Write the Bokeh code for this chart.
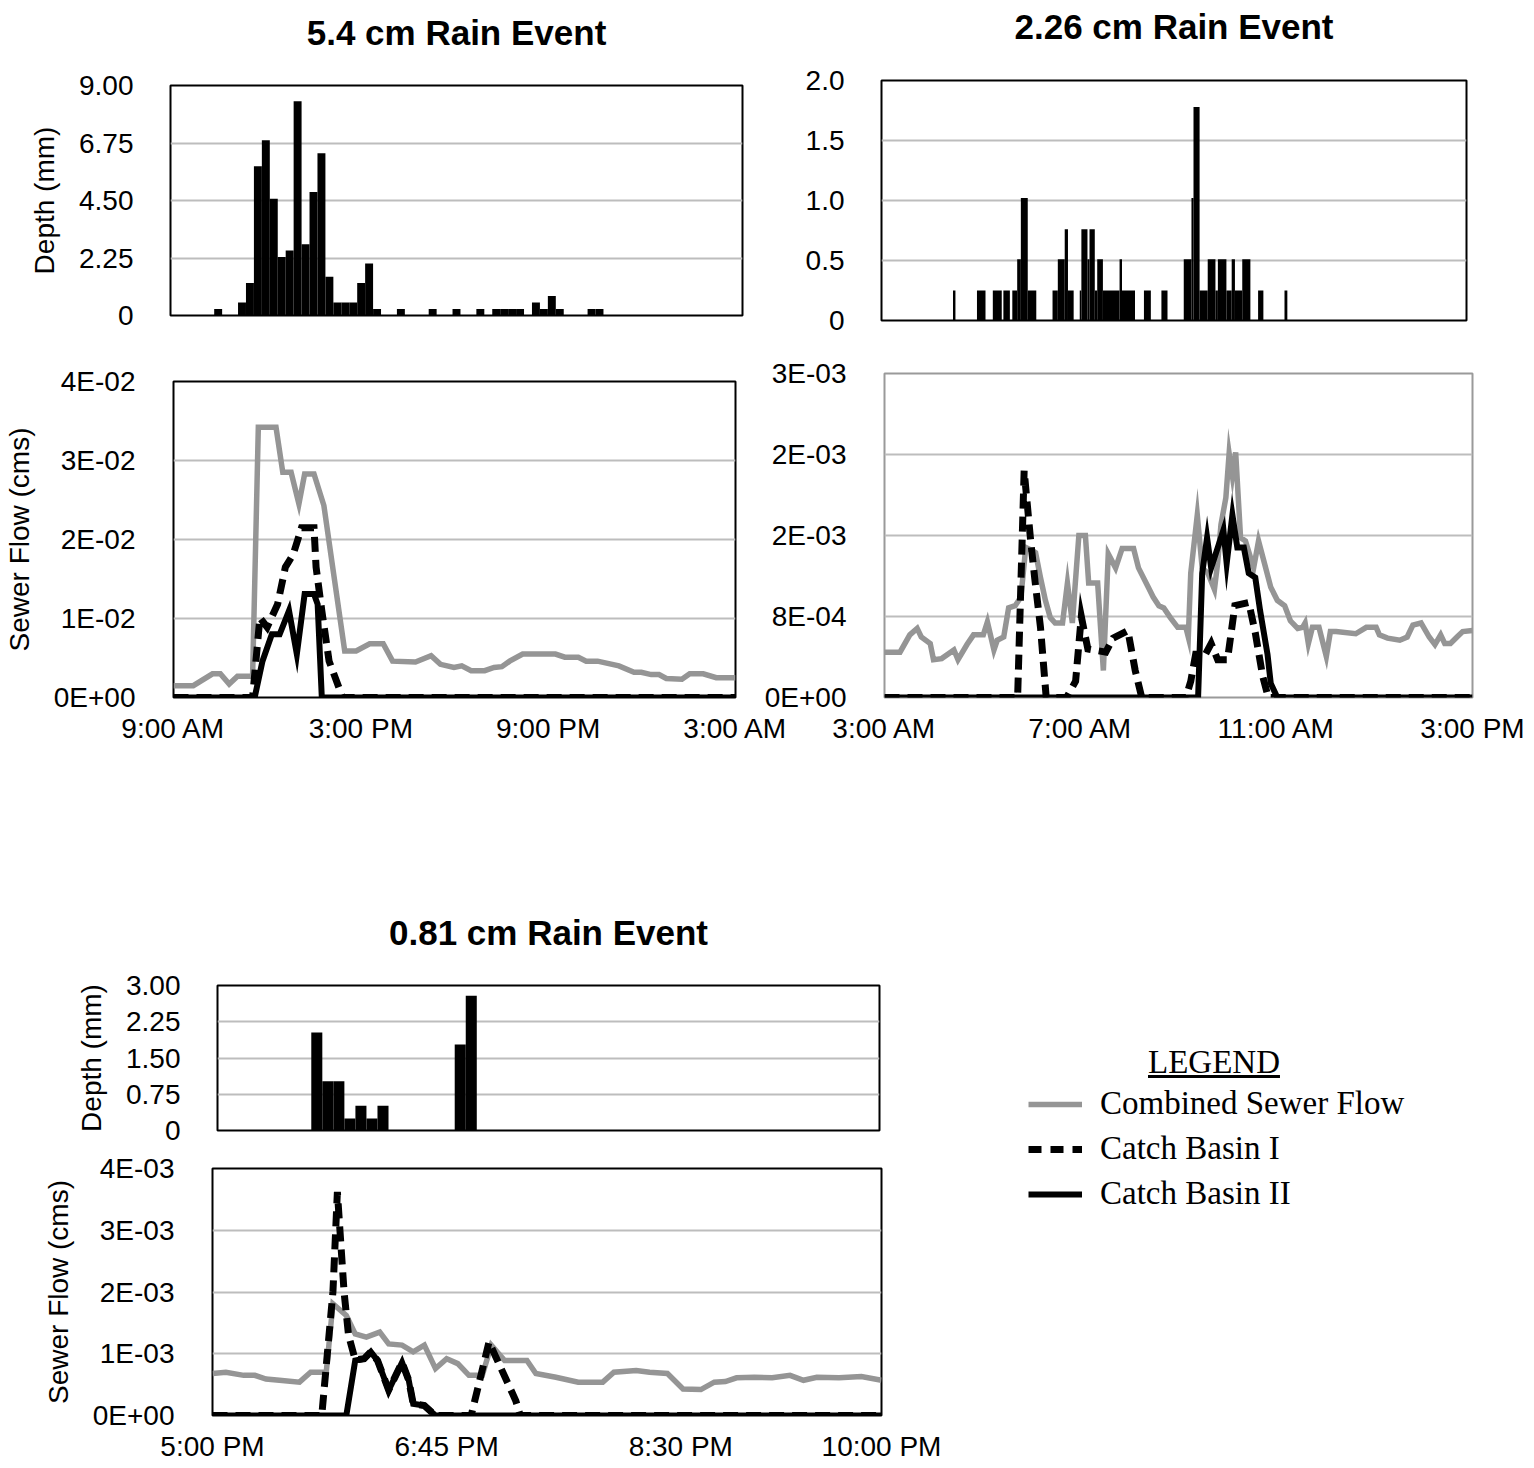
from bokeh.plotting import figure
from bokeh.models import Range1d, FixedTicker, Legend, LegendItem, Div
from bokeh.embed import file_html
from bokeh.resources import INLINE

SANS = "Liberation Sans"
SERIF = "Liberation Serif"
GRAY = "#959595"
GRID = "#bdbdbd"

# ---------------- 5.4 cm event (minutes after 9:00 AM) ----------------
tl_rain_t = [90, 135, 150, 165, 180, 195, 210, 225, 240, 255, 270, 285, 300, 315, 330, 345,
             360, 375, 390, 435, 495, 540, 585, 615, 630, 645, 660, 690, 705, 720, 735, 795, 810]
tl_rain_mm = [0.25, 0.51, 1.27, 5.84, 6.86, 4.57, 2.29, 2.54, 8.38, 2.79, 4.83, 6.35, 1.52, 0.51, 0.51, 0.51,
              1.27, 2.03, 0.25, 0.25, 0.25, 0.25, 0.25, 0.25, 0.25, 0.25, 0.25, 0.51, 0.25, 0.76, 0.25, 0.25, 0.25]
tl_csf_t = [0, 38, 75, 90, 107, 123, 152, 163, 197, 210, 226, 241, 252, 270, 289, 307, 329, 351, 377, 403,
            421, 465, 495, 513, 539, 554, 572, 598, 616, 631, 646, 671, 734, 752, 778, 793, 815, 856, 885, 899,
            918, 933, 947, 977, 992, 1018, 1043, 1080]
tl_csf = [0.0015, 0.0015, 0.0030, 0.0030, 0.0017, 0.0027, 0.0027, 0.0342, 0.0342, 0.0285, 0.0285, 0.0245,
          0.0283, 0.0283, 0.0243, 0.0160, 0.0059, 0.0059, 0.0068, 0.0068, 0.0046, 0.0045, 0.0053, 0.0042,
          0.0038, 0.0040, 0.0034, 0.0034, 0.0038, 0.0039, 0.0046, 0.0055, 0.0055, 0.0051, 0.0051, 0.0046,
          0.0046, 0.0040, 0.0032, 0.0032, 0.0029, 0.0029, 0.0024, 0.0023, 0.0030, 0.0030, 0.0025, 0.0025]
tl_cb1_t = [0, 152, 166, 180, 200, 215, 230, 246, 270, 274, 285, 299, 325, 1080]
tl_cb1 = [0, 0, 0.0101, 0.0089, 0.0118, 0.0165, 0.0181, 0.0215, 0.0215, 0.0165, 0.0110, 0.0046, 0, 0]
tl_cb2_t = [0, 156, 171, 189, 204, 222, 237, 252, 270, 277, 285, 1080]
tl_cb2 = [0, 0, 0.0046, 0.0080, 0.0080, 0.0110, 0.0055, 0.0131, 0.0131, 0.0118, 0, 0]
tl_xticks = [0, 360, 720, 1080]
tl_xlabels = ["9:00 AM", "3:00 PM", "9:00 PM", "3:00 AM"]
tl_rain_ticks = [0.0, 2.25, 4.5, 6.75, 9.0]
tl_rain_labels = ["0", "2.25", "4.50", "6.75", "9.00"]
tl_flow_ticks = [0.0, 0.01, 0.02, 0.03, 0.04]
tl_flow_labels = ["0E+00", "1E-02", "2E-02", "3E-02", "4E-02"]

# ---------------- 2.26 cm event (minutes after 3:00 AM) ----------------
tr_rain_start = [88, 117.5, 137, 150, 161, 167, 171.5, 180, 210.5, 217, 225.5, 229.5, 244, 246, 253.5, 256,
                 262.5, 265.5, 272.5, 293, 296, 323, 344.5, 372, 381.5, 384, 391.5, 401.5, 411, 414, 424.5,
                 431, 435, 444, 463.5, 496]
tr_rain_end = [91, 128, 148, 158, 167, 171.5, 180, 190.5, 217, 225.5, 229.5, 236.5, 246, 253.5, 256, 262.5,
               265.5, 272.5, 293, 296, 312, 331.5, 352, 381.5, 384, 391.5, 401.5, 411, 414, 424.5, 431,
               435, 444, 454, 470, 499.5]
tr_rain_mm = [0.25, 0.25, 0.25, 0.25, 0.25, 0.51, 1.02, 0.25, 0.25, 0.51, 0.76, 0.25, 0.25, 0.76, 0.51, 0.76,
              0.25, 0.51, 0.25, 0.51, 0.25, 0.25, 0.25, 0.51, 1.02, 1.78, 0.25, 0.51, 0.25, 0.51, 0.25,
              0.51, 0.25, 0.51, 0.25, 0.25]
tr_csf_t = [0, 19, 31, 40, 45, 56, 60, 70, 85, 90, 101, 109, 121, 126, 134, 138, 146, 152, 160, 167,
            173, 181, 185, 191, 197, 203, 209, 218, 224, 230, 238, 246, 250, 261, 268, 274, 283, 291, 305, 311,
            323, 329, 336, 342, 350, 359, 369, 372, 375, 383, 389, 396, 404, 408, 412, 418, 422, 426, 430, 436,
            442, 452, 458, 465, 473, 481, 490, 497, 506, 512, 515, 519, 524, 532, 541, 546, 553, 577, 590, 602,
            606, 616, 631, 640, 647, 657, 667, 674, 681, 686, 693, 701, 708, 720]
tr_csf = [4.2e-4, 4.2e-4, 5.8e-4, 6.4e-4, 5.6e-4, 5.0e-4, 3.5e-4, 3.6e-4, 4.4e-4, 3.5e-4,
          4.9e-4, 5.8e-4, 5.8e-4, 7.0e-4, 4.4e-4, 5.3e-4, 5.6e-4, 8.3e-4, 8.5e-4, 9.3e-4,
          13.9e-4, 13.6e-4, 13.4e-4, 11.1e-4, 9.0e-4, 7.4e-4, 6.9e-4, 6.9e-4, 10.6e-4, 6.9e-4,
          15.0e-4, 15.0e-4, 10.6e-4, 10.6e-4, 2.5e-4, 13.3e-4, 12.0e-4, 13.8e-4, 13.8e-4, 12.0e-4,
          10.2e-4, 9.3e-4, 8.5e-4, 8.3e-4, 7.4e-4, 6.5e-4, 6.5e-4, 5.6e-4, 11.5e-4, 16.9e-4,
          12.0e-4, 11.5e-4, 10.0e-4, 12.5e-4, 16.0e-4, 18.5e-4, 22.6e-4, 20.5e-4, 22.7e-4, 14.8e-4,
          14.5e-4, 12.0e-4, 14.5e-4, 12.5e-4, 10.2e-4, 9.0e-4, 8.5e-4, 7.1e-4, 6.4e-4, 6.5e-4,
          6.9e-4, 5.0e-4, 6.5e-4, 6.5e-4, 3.8e-4, 6.1e-4, 6.1e-4, 5.9e-4, 6.5e-4, 6.5e-4,
          5.8e-4, 5.5e-4, 5.3e-4, 5.6e-4, 6.7e-4, 6.9e-4, 5.6e-4, 4.9e-4, 5.8e-4, 5.0e-4,
          5.0e-4, 5.6e-4, 6.1e-4, 6.2e-4]
tr_cb1_t = [0, 163, 171, 179, 184, 191, 198, 223, 234, 241, 249, 271, 280, 298, 307, 315, 369, 375, 381, 393,
            400, 408, 420, 429, 446, 454, 463, 470, 720]
tr_cb1 = [0, 0, 21e-4, 14.5e-4, 11e-4, 6.5e-4, 0, 0, 1.5e-4, 7.5e-4, 4.5e-4, 4.2e-4, 5.5e-4, 6.2e-4, 2.5e-4,
          0, 0, 1.5e-4, 4.0e-4, 4.0e-4, 5.0e-4, 3.5e-4, 3.5e-4, 8.5e-4, 8.8e-4, 6.0e-4, 2.0e-4, 0, 0]
tr_cb2_t = [0, 384, 389, 395, 400, 415, 419, 426, 432, 440, 446, 454, 460, 469, 473, 481, 720]
tr_cb2 = [0, 0, 11.5e-4, 14.8e-4, 12.0e-4, 15.5e-4, 12.4e-4, 16.9e-4, 13.9e-4, 13.9e-4, 11.5e-4, 11.1e-4,
          8.0e-4, 4.0e-4, 1.3e-4, 0, 0]
tr_xticks = [0, 240, 480, 720]
tr_xlabels = ["3:00 AM", "7:00 AM", "11:00 AM", "3:00 PM"]
tr_rain_ticks = [0.0, 0.5, 1.0, 1.5, 2.0]
tr_rain_labels = ["0", "0.5", "1.0", "1.5", "2.0"]
tr_flow_ticks = [0.0, 0.00075, 0.0015, 0.00225, 0.003]
tr_flow_labels = ["0E+00", "8E-04", "2E-03", "2E-03", "3E-03"]

# ---------------- 0.81 cm event (minutes after 5:00 PM) ----------------
b_rain_t = [45, 50, 55, 60, 65, 70, 75, 110, 115]
b_rain_mm = [2.03, 1.02, 1.02, 0.25, 0.51, 0.25, 0.51, 1.78, 2.79]
b_csf_t = [0, 6, 14, 19, 24, 30, 39, 44, 51, 54, 60, 64, 69, 75, 79, 85, 90, 95, 100, 105,
           110, 115, 121, 125, 131, 141, 145, 154, 164, 175, 180, 190, 196, 204, 211, 219, 225, 230, 235, 243,
           251, 259, 265, 271, 281, 291, 300]
b_csf = [0.68e-3, 0.70e-3, 0.65e-3, 0.65e-3, 0.59e-3, 0.57e-3, 0.54e-3, 0.70e-3, 0.70e-3, 1.81e-3,
         1.62e-3, 1.32e-3, 1.27e-3, 1.35e-3, 1.16e-3, 1.14e-3, 1.03e-3, 1.14e-3, 0.76e-3, 0.92e-3,
         0.84e-3, 0.65e-3, 0.65e-3, 1.14e-3, 0.89e-3, 0.89e-3, 0.68e-3, 0.62e-3, 0.54e-3, 0.54e-3,
         0.70e-3, 0.73e-3, 0.70e-3, 0.68e-3, 0.43e-3, 0.42e-3, 0.54e-3, 0.55e-3, 0.61e-3, 0.62e-3,
         0.61e-3, 0.65e-3, 0.57e-3, 0.62e-3, 0.61e-3, 0.63e-3, 0.57e-3]
b_cb1_t = [0, 49, 54, 56, 59, 61, 64, 68, 71, 74, 79, 85, 88, 90, 95, 100, 116, 124, 136, 138, 300]
b_cb1 = [0, 0, 2.0e-3, 3.62e-3, 2.0e-3, 1.3e-3, 0.9e-3, 0.92e-3, 1.03e-3, 0.89e-3, 0.41e-3, 0.86e-3,
         0.57e-3, 0.19e-3, 0.16e-3, 0, 0, 1.19e-3, 0.24e-3, 0, 0]
b_cb2_t = [0, 60, 64, 68, 71, 74, 79, 85, 88, 90, 95, 100, 300]
b_cb2 = [0, 0, 0.89e-3, 0.92e-3, 1.03e-3, 0.89e-3, 0.41e-3, 0.86e-3, 0.57e-3, 0.19e-3, 0.16e-3, 0, 0]
b_xticks = [0, 105, 210, 300]
b_xlabels = ["5:00 PM", "6:45 PM", "8:30 PM", "10:00 PM"]
b_rain_ticks = [0.0, 0.75, 1.5, 2.25, 3.0]
b_rain_labels = ["0", "0.75", "1.50", "2.25", "3.00"]
b_flow_ticks = [0.0, 0.001, 0.002, 0.003, 0.004]
b_flow_labels = ["0E+00", "1E-03", "2E-03", "3E-03", "4E-03"]

legend_labels = ["Combined Sewer Flow", "Catch Basin I", "Catch Basin II"]

GRAY_W, DASH_W, SOLID_W = 5.5, 7, 6
DASH = "15 8"


def place(obj, left, top, w, h):
    obj.styles = {"position": "absolute", "left": f"{left}px", "top": f"{top}px",
                  "width": f"{w}px", "height": f"{h}px"}


def base_fig(box, frame, xr, yr, outline="black", title=None, title_standoff=68):
    left, top, w, h = box
    fl, ft, fr, fb = frame
    kw = {}
    if title:
        kw["title"] = title
    p = figure(width=w, height=h, x_range=Range1d(*xr), y_range=Range1d(*yr),
               output_backend="svg", toolbar_location=None,
               min_border_left=fl - left, min_border_right=left + w - fr,
               min_border_top=ft - top, min_border_bottom=top + h - fb, **kw)
    place(p, left, top, w, h)
    p.border_fill_color = None
    p.background_fill_color = "white"
    p.outline_line_color = outline
    p.outline_line_width = 2
    p.xgrid.visible = False
    p.ygrid.grid_line_color = GRID
    p.ygrid.grid_line_width = 2
    if title:
        p.title.align = "center"
        p.title.text_font = SANS
        p.title.text_font_size = "35px"
        p.title.text_font_style = "bold"
        p.title.text_color = "black"
        p.title.standoff = title_standoff
    return p


def style_axis(ax, ticks, labels, standoff, label=None):
    t = FixedTicker(ticks=ticks)
    ax.ticker = t
    ax.major_label_overrides = {k: v for k, v in zip(ticks, labels)}
    ax.axis_line_color = None
    ax.major_tick_line_color = None
    ax.minor_tick_line_color = None
    ax.major_tick_out = 0
    ax.major_tick_in = 0
    ax.major_label_standoff = standoff
    ax.major_label_text_font = SANS
    ax.major_label_text_font_size = "28px"
    ax.major_label_text_color = "black"
    if label:
        ax.axis_label = label
        ax.axis_label_text_font = SANS
        ax.axis_label_text_font_size = "28px"
        ax.axis_label_text_font_style = "normal"
        ax.axis_label_text_color = "black"
        ax.axis_label_standoff = 16
    return t


def rain_panel(box, frame, xr, yr, ticks, labels, title, ylabel=None, title_standoff=68):
    p = base_fig(box, frame, xr, yr, title=title, title_standoff=title_standoff)
    p.xaxis.visible = False
    t = style_axis(p.yaxis[0], ticks, labels, 37, ylabel)
    p.ygrid.ticker = t
    return p


def flow_panel(box, frame, xr, yr, yticks, ylabels, xticks, xlabels, ylabel=None, outline="black"):
    p = base_fig(box, frame, xr, yr, outline=outline)
    t = style_axis(p.yaxis[0], yticks, ylabels, 38, ylabel)
    p.ygrid.ticker = t
    style_axis(p.xaxis[0], xticks, xlabels, 15)
    return p


def draw_flows(p, csf_t, csf, cb1_t, cb1, cb2_t, cb2):
    r1 = p.line(csf_t, csf, line_color=GRAY, line_width=GRAY_W, line_join="miter")
    r2 = p.line(cb1_t, cb1, line_color="black", line_width=DASH_W, line_dash=DASH, line_join="miter")
    r3 = p.line(cb2_t, cb2, line_color="black", line_width=SOLID_W, line_join="miter")
    return r1, r2, r3


# ---- Top-left: 5.4 cm ----
p_tl_rain = rain_panel((0, -30, 770, 375), (170, 85, 742, 315), (0, 1080), (0, 9),
                       tl_rain_ticks, tl_rain_labels, "5.4 cm Rain Event", "Depth (mm)")
p_tl_rain.vbar(x=tl_rain_t, top=tl_rain_mm, width=15, bottom=0, fill_color="black", line_color=None)

p_tl_flow = flow_panel((0, 345, 800, 420), (172, 381, 735, 697), (0, 1080), (0, 0.04),
                       tl_flow_ticks, tl_flow_labels, tl_xticks, tl_xlabels, "Sewer Flow (cms)")
draw_flows(p_tl_flow, tl_csf_t, tl_csf, tl_cb1_t, tl_cb1, tl_cb2_t, tl_cb2)

# ---- Top-right: 2.26 cm ----
p_tr_rain = rain_panel((775, -35, 745, 380), (881, 80, 1466, 320), (0, 720), (0, 2),
                       tr_rain_ticks, tr_rain_labels, "2.26 cm Rain Event", title_standoff=70)
p_tr_rain.quad(left=tr_rain_start, right=tr_rain_end, top=tr_rain_mm, bottom=0,
               fill_color="black", line_color=None)

p_tr_flow = flow_panel((755, 345, 779, 420), (884, 373, 1472, 697), (0, 720), (0, 0.003),
                       tr_flow_ticks, tr_flow_labels, tr_xticks, tr_xlabels, outline="#9a9a9a")
draw_flows(p_tr_flow, tr_csf_t, tr_csf, tr_cb1_t, tr_cb1, tr_cb2_t, tr_cb2)

# ---- Bottom: 0.81 cm ----
p_b_rain = rain_panel((0, 870, 900, 280), (217, 985, 879, 1130), (0, 300), (0, 3),
                      b_rain_ticks, b_rain_labels, "0.81 cm Rain Event", "Depth (mm)")
p_b_rain.vbar(x=b_rain_t, top=b_rain_mm, width=5, bottom=0, fill_color="black", line_color=None)

p_b_flow = flow_panel((0, 1150, 960, 318), (212, 1168, 881, 1415), (0, 300), (0, 0.004),
                      b_flow_ticks, b_flow_labels, b_xticks, b_xlabels, "Sewer Flow (cms)")
draw_flows(p_b_flow, b_csf_t, b_csf, b_cb1_t, b_cb1, b_cb2_t, b_cb2)

# ---- Legend (own small canvas; sample renderers hold a single empty point) ----
LEG_BOX = (1010, 1075, 440, 150)
p_leg = figure(width=LEG_BOX[2], height=LEG_BOX[3], output_backend="svg", toolbar_location=None,
               x_range=Range1d(0, 1), y_range=Range1d(0, 1),
               min_border_left=0, min_border_right=0, min_border_top=0, min_border_bottom=0)
place(p_leg, *LEG_BOX)
p_leg.axis.visible = False
p_leg.grid.visible = False
p_leg.outline_line_color = None
p_leg.border_fill_color = None
p_leg.background_fill_color = None
nan = float("nan")
s1 = p_leg.line(x=[nan], y=[nan], line_color=GRAY, line_width=GRAY_W)
s2 = p_leg.line(x=[nan], y=[nan], line_color="black", line_width=DASH_W, line_dash="13 9")
s3 = p_leg.line(x=[nan], y=[nan], line_color="black", line_width=SOLID_W)
legend = Legend(items=[LegendItem(label=lab, renderers=[r]) for lab, r in zip(legend_labels, [s1, s2, s3])],
                location=(18, 13))
legend.glyph_width = 54
legend.glyph_height = 30
legend.label_height = 30
legend.label_standoff = 18
legend.spacing = 8
legend.padding = 0
legend.margin = 0
legend.border_line_color = None
legend.background_fill_alpha = 0
legend.label_text_font = SERIF
legend.label_text_font_size = "33px"
legend.label_text_color = "black"
p_leg.add_layout(legend)

legend_title = Div(text="<u>LEGEND</u>", width=160, height=40,
                   styles={"position": "absolute", "left": "1143px", "top": "1041px",
                           "width": "160px", "height": "40px",
                           "font-family": SERIF, "font-size": "33px", "line-height": "1",
                           "color": "black"})

roots = [p_tl_rain, p_tr_rain, p_tl_flow, p_tr_flow, p_b_rain, p_b_flow, p_leg, legend_title]
open("out.html", "w").write(file_html(roots, INLINE))
